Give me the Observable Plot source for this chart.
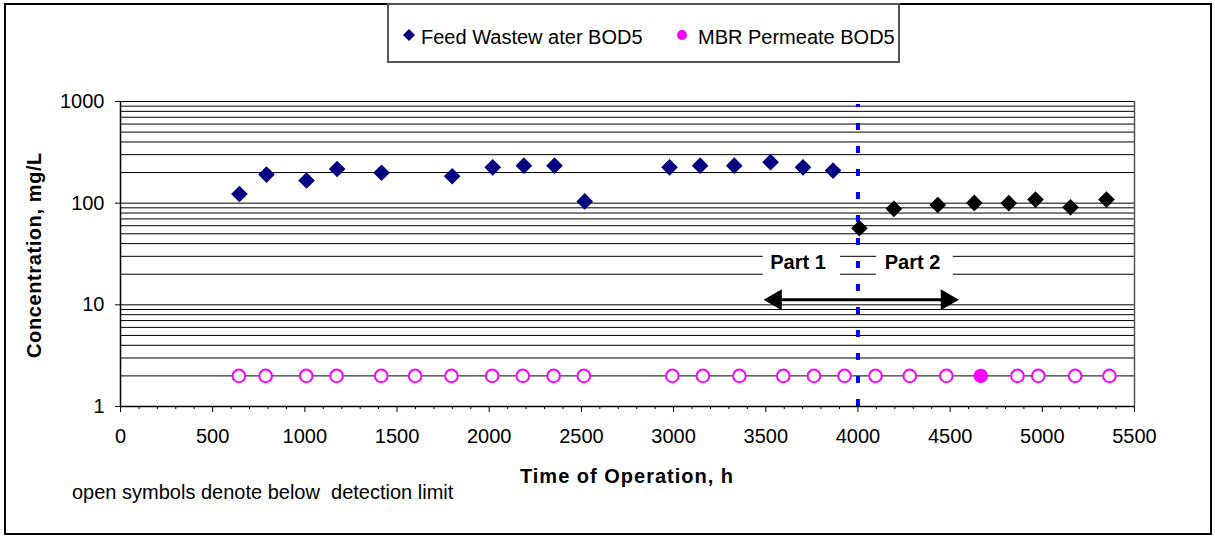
<!DOCTYPE html>
<html>
<head>
<meta charset="utf-8">
<script src="https://cdn.jsdelivr.net/npm/d3@7"></script>
<script src="https://cdn.jsdelivr.net/npm/@observablehq/plot@0.6"></script>
<style>
  html, body { margin: 0; padding: 0; background: #fff; }
  #chart { position: relative; width: 1215px; height: 539px; overflow: hidden;
           font-family: "Liberation Sans", Arial, sans-serif; color: #000; background: #fff; }
  #frame { position: absolute; left: 4px; top: 3px; width: 1208px; height: 532px;
           border: 2px solid #000; box-sizing: border-box; }
  #legend { position: absolute; left: 387px; top: 3px; width: 513px; height: 60px;
            border: 2px solid #555; box-sizing: border-box; background: #fff; }
  .lg { position: absolute; top: 20px; font-size: 20px; line-height: 24px; white-space: pre; }
  .lgm { position: absolute; }
  #plotwrap { position: absolute; left: 0; top: 70px; }
  #ytitle { position: absolute; left: 34px; top: 255px; transform: translate(-50%, -50%) rotate(-90deg);
            font-size: 20px; font-weight: bold; letter-spacing: 0.6px; white-space: nowrap; }
  #xtitle { position: absolute; left: 627px; top: 476px; transform: translate(-50%, -50%);
            font-size: 20px; font-weight: bold; letter-spacing: 1px; white-space: nowrap; }
  #note { position: absolute; left: 72px; top: 480px; font-size: 20px; line-height: 24px; white-space: pre; }
</style>
</head>
<body>
<div id="chart">
  <div id="frame"></div>
  <div id="plotwrap"></div>
  <div id="legend"></div>
  <div id="ytitle"></div>
  <div id="xtitle"></div>
  <div id="note"></div>
</div>
<script>
// ---------------- data ----------------
const seriesNames = ["Feed Wastew ater BOD5", "MBR Permeate BOD5"];
const yTitle = "Concentration, mg/L";
const xTitle = "Time of Operation, h";
const footnote = "open symbols denote below  detection limit";

// Feed wastewater BOD5, Part 1 (navy diamonds)
const feedHours = [645, 792, 1009, 1175, 1416, 1799, 2019, 2188, 2354, 2518, 2978, 3144, 3329, 3526, 3702, 3865];
const feedBOD   = [123, 191, 167, 217, 199, 184, 225, 234, 234, 104, 225, 234, 234, 253, 225, 209];

// Feed wastewater BOD5, Part 2 (black diamonds)
const part2Hours = [4008, 4195, 4433, 4631, 4818, 4963, 5153, 5348];
const part2BOD   = [56.6, 88, 96, 100.5, 100, 108.5, 91, 108.5];

// MBR permeate BOD5 (magenta circles; open = below detection limit)
const permHours = [642, 787, 1007, 1172, 1414, 1598, 1795, 2016, 2182, 2349, 2513, 2993, 3159, 3357,
                   3595, 3761, 3927, 4095, 4281, 4479, 4666, 4865, 4978, 5178, 5364];
const permBOD   = [2, 2, 2, 2, 2, 2, 2, 2, 2, 2, 2, 2, 2, 2, 2, 2, 2, 2, 2, 2, 2, 2, 2, 2, 2];
const permDetected = [false, false, false, false, false, false, false, false, false, false, false, false, false, false,
                      false, false, false, false, false, false, true, false, false, false, false];

// axes
const xDomain = [0, 5500];
const yDomain = [1, 1000];
const xMajorTicks = [0, 500, 1000, 1500, 2000, 2500, 3000, 3500, 4000, 4500, 5000, 5500];
const xMinorTicks = [100, 200, 300, 400, 600, 700, 800, 900, 1100, 1200, 1300, 1400, 1600, 1700, 1800, 1900,
                     2100, 2200, 2300, 2400, 2600, 2700, 2800, 2900, 3100, 3200, 3300, 3400, 3600, 3700, 3800, 3900,
                     4100, 4200, 4300, 4400, 4600, 4700, 4800, 4900, 5100, 5200, 5300, 5400];
const yTicks = [1, 10, 100, 1000];
const yGrid = [2, 3, 4, 5, 6, 7, 8, 9, 10, 20, 30, 40, 50, 60, 70, 80, 90,
               100, 200, 300, 400, 500, 600, 700, 800, 900, 1000];

// annotations (in data units)
const dividerHour = [4000];
const partLabels = ["Part 1", "Part 2"];
const partCenters = [3675, 4296];
const partBoxLeft = [3486, 4101];
const partBoxRight = [3905, 4517];
const partLabelY = 26.2;
const partBoxY = [18.1, 35.8];
const arrowFrom = 3489, arrowTo = 4547, arrowY = 11.2;

// ---------------- build ----------------
const feed = feedHours.map((h, i) => ({h, v: feedBOD[i]}));
const part2 = part2Hours.map((h, i) => ({h, v: part2BOD[i]}));
const perm = permHours.map((h, i) => ({h, v: permBOD[i], det: permDetected[i]}));
const parts = partLabels.map((t, i) => ({t, x: partCenters[i], x1: partBoxLeft[i], x2: partBoxRight[i]}));

const plot = Plot.plot({
  width: 1215,
  height: 420,
  marginLeft: 120,
  marginRight: 81,
  marginTop: 31,
  marginBottom: 84,
  style: {fontFamily: '"Liberation Sans", Arial, sans-serif', fontSize: "20px", color: "#000", background: "transparent", overflow: "visible"},
  x: {domain: xDomain},
  y: {type: "log", domain: yDomain},
  marks: [
    Plot.ruleY(yGrid, {stroke: "#000", strokeWidth: 1}),
    Plot.ruleX([xDomain[1]], {y1: yDomain[0], y2: yDomain[1], stroke: "#555", strokeWidth: 1.5}),
    Plot.rect(parts, {x1: "x1", x2: "x2", y1: partBoxY[0], y2: partBoxY[1], fill: "#fff"}),
    Plot.text(parts, {x: "x", y: partLabelY, text: "t", fontWeight: "bold", fontSize: 20, fill: "#000"}),
    Plot.ruleY([arrowY], {x1: arrowFrom + 20, x2: arrowTo - 20, stroke: "#000", strokeWidth: 3}),
    Plot.dot([arrowFrom], {x: d => d, y: arrowY, symbol: "triangle", r: 7.8, fill: "#000", stroke: "none", rotate: -90, dx: 12}),
    Plot.dot([arrowTo], {x: d => d, y: arrowY, symbol: "triangle", r: 7.8, fill: "#000", stroke: "none", rotate: 90, dx: -12}),
    Plot.ruleX(dividerHour, {y1: 1, y2: 1000, stroke: "#0000FF", strokeWidth: 4, strokeDasharray: "7,16", insetBottom: -3}),
    Plot.ruleY([yDomain[0]], {stroke: "#000", strokeWidth: 1.5}),
    Plot.ruleX([xDomain[0]], {y1: yDomain[0], y2: yDomain[1], stroke: "#000", strokeWidth: 1.5}),
    Plot.dot(feed, {x: "h", y: "v", symbol: "diamond2", r: 7.5, fill: "#000080", stroke: "none"}),
    Plot.dot(part2, {x: "h", y: "v", symbol: "diamond2", r: 7.5, fill: "#000", stroke: "none"}),
    Plot.dot(perm.filter(d => !d.det), {x: "h", y: "v", r: 6.3, fill: "#fff", stroke: "#FF00FF", strokeWidth: 2}),
    Plot.dot(perm.filter(d => d.det), {x: "h", y: "v", r: 7.2, fill: "#FF00FF", stroke: "none"}),
    Plot.axisX({ticks: xMajorTicks, tickSize: 6, tickPadding: 16, tickFormat: d => String(d), label: null}),
    Plot.axisX({ticks: xMinorTicks, tickSize: 3, tickFormat: () => "", label: null}),
    Plot.axisY({ticks: yTicks, tickSize: 5, tickPadding: 11, tickFormat: d => String(d), label: null})
  ]
});
document.getElementById("plotwrap").appendChild(plot);

// legend
const legend = document.getElementById("legend");
legend.innerHTML =
  `<svg class="lgm" style="left:13px;top:23px" width="14" height="14"><path d="M7,1L13,7L7,13L1,7Z" fill="#000080"/></svg>` +
  `<div class="lg" style="left:32px">${seriesNames[0]}</div>` +
  `<svg class="lgm" style="left:287px;top:24px" width="12" height="12"><circle cx="6" cy="6" r="5" fill="#FF00FF"/></svg>` +
  `<div class="lg" style="left:309px">${seriesNames[1]}</div>`;

document.getElementById("ytitle").textContent = yTitle;
document.getElementById("xtitle").textContent = xTitle;
document.getElementById("note").textContent = footnote;
</script>
</body>
</html>
